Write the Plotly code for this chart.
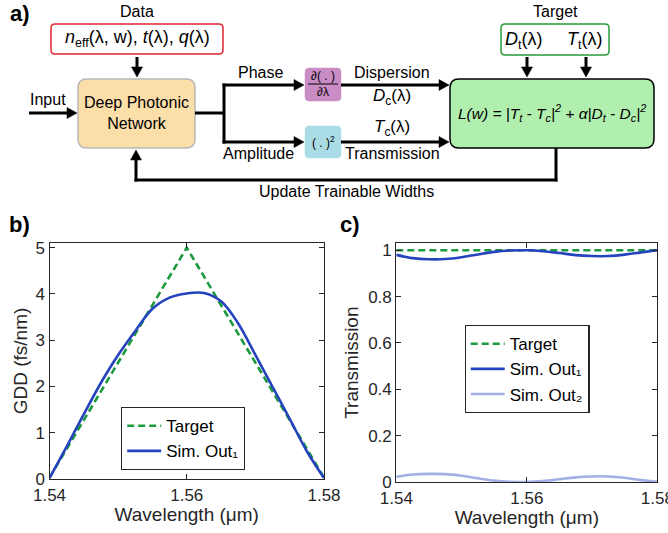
import plotly.graph_objects as go

W, H = 668, 533
FONT = "Liberation Sans, Arial, sans-serif"
AX = "#262626"

# ---------------- data ----------------
wl_target = [1.54, 1.56, 1.58]
gdd_target = [0.03, 5.0, 0.03]

wl = [1.54, 1.5425, 1.545, 1.5475, 1.55, 1.5525, 1.555, 1.5575, 1.56,
      1.5625, 1.565, 1.5675, 1.57, 1.5725, 1.575, 1.5775, 1.58]
gdd_sim = [0.02, 0.70, 1.40, 2.08, 2.68, 3.20, 3.68, 3.92, 4.01,
           4.02, 3.84, 3.36, 2.68, 1.99, 1.30, 0.60, 0.02]

wl_trans_target = [1.54, 1.58]
trans_target = [1.0, 1.0]
trans_out1 = [0.980, 0.966, 0.961, 0.962, 0.970, 0.982, 0.993, 0.999, 1.000,
              0.996, 0.988, 0.979, 0.975, 0.975, 0.981, 0.991, 1.000]
trans_out2 = [0.022, 0.032, 0.035, 0.034, 0.027, 0.016, 0.006, 0.001, 0.000,
              0.004, 0.012, 0.020, 0.024, 0.024, 0.018, 0.008, 0.001]

x_ticks = [1.54, 1.56, 1.58]
x_ticktext = ["1.54", "1.56", "1.58"]
gdd_ticks = [0, 1, 2, 3, 4, 5]
trans_ticks = [0, 0.2, 0.4, 0.6, 0.8, 1.0]
trans_ticktext = ["0", "0.2", "0.4", "0.6", "0.8", "1"]

GREEN = "#1a9a3c"
BLUE = "#2443bd"
LBLUE = "#a3b0e6"

fig = go.Figure()

# panel b
fig.add_trace(go.Scatter(x=wl_target, y=gdd_target, mode="lines", name="Target",
                         line=dict(color=GREEN, width=2.6, dash="7px,4px"),
                         xaxis="x", yaxis="y", legend="legend", legendgroup="a"))
fig.add_trace(go.Scatter(x=wl, y=gdd_sim, mode="lines", name="Sim. Out₁",
                         line=dict(color=BLUE, width=2.6, shape="spline", smoothing=1),
                         xaxis="x", yaxis="y", legend="legend", legendgroup="b"))
# panel c
fig.add_trace(go.Scatter(x=wl_trans_target, y=trans_target, mode="lines", name="Target",
                         line=dict(color=GREEN, width=2.6, dash="7px,4px"),
                         xaxis="x2", yaxis="y2", legend="legend2", legendgroup="c"))
fig.add_trace(go.Scatter(x=wl, y=trans_out1, mode="lines", name="Sim. Out₁",
                         line=dict(color=BLUE, width=2.6, shape="spline", smoothing=1),
                         xaxis="x2", yaxis="y2", legend="legend2", legendgroup="d"))
fig.add_trace(go.Scatter(x=wl, y=trans_out2, mode="lines", name="Sim. Out₂",
                         line=dict(color=LBLUE, width=2.6, shape="spline", smoothing=1),
                         xaxis="x2", yaxis="y2", legend="legend2", legendgroup="e"))


def X(px):
    return px / W


def Y(py):
    return 1 - py / H


axis_common = dict(showline=True, linecolor=AX, linewidth=1.2, mirror="ticks",
                   ticks="inside", ticklen=5, tickcolor=AX, tickwidth=1,
                   showgrid=False, zeroline=False, automargin=False,
                   ticklabeloverflow="allow",
                   tickfont=dict(family=FONT, size=17, color=AX))

xb = dict(axis_common, domain=[X(49.5), X(324)], range=[1.54, 1.58],
          tickvals=x_ticks, ticktext=x_ticktext, anchor="y",
          title=dict(text="Wavelength (μm)", font=dict(family=FONT, size=19, color=AX), standoff=4))
yb = dict(axis_common, domain=[Y(479), Y(243)], range=[0, 5.1],
          tickvals=gdd_ticks, anchor="x",
          title=dict(text="GDD (fs/nm)", font=dict(family=FONT, size=19, color=AX), standoff=2))
xc = dict(axis_common, domain=[X(396.3), X(657.3)], range=[1.54, 1.58],
          tickvals=x_ticks, ticktext=x_ticktext, anchor="y2",
          title=dict(text="Wavelength (μm)", font=dict(family=FONT, size=19, color=AX), standoff=4))
yc = dict(axis_common, domain=[Y(482), Y(243.3)], range=[0, 1.03],
          tickvals=trans_ticks, ticktext=trans_ticktext, anchor="x2",
          title=dict(text="Transmission", font=dict(family=FONT, size=19, color=AX), standoff=4))

shapes = []
annotations = []


def rrect(x0, y0, x1, y1, r, fill, lc, lw=1.5):
    pts = [("M", x0 + r, y0), ("L", x1 - r, y0), ("Q", x1, y0, x1, y0 + r),
           ("L", x1, y1 - r), ("Q", x1, y1, x1 - r, y1), ("L", x0 + r, y1),
           ("Q", x0, y1, x0, y1 - r), ("L", x0, y0 + r), ("Q", x0, y0, x0 + r, y0)]
    parts = []
    for p in pts:
        cmd = p[0]
        coords = p[1:]
        s = cmd + " " + " ".join(
            f"{X(coords[i]):.5f},{Y(coords[i + 1]):.5f}" for i in range(0, len(coords), 2))
        parts.append(s)
    path = " ".join(parts) + " Z"
    shapes.append(dict(type="path", path=path, xref="paper", yref="paper",
                       fillcolor=fill, line=dict(color=lc, width=lw), layer="above"))


def seg(x0, y0, x1, y1, w=3):
    shapes.append(dict(type="line", x0=X(x0), y0=Y(y0), x1=X(x1), y1=Y(y1),
                       xref="paper", yref="paper", line=dict(color="black", width=w),
                       layer="above"))


def arrow(x0, y0, x1, y1, hl=10, hw=5.5):
    dx, dy = x1 - x0, y1 - y0
    L = (dx * dx + dy * dy) ** 0.5
    ux, uy = dx / L, dy / L
    bx, by = x1 - hl * ux, y1 - hl * uy
    seg(x0, y0, bx + ux, by + uy)
    px, py = -uy, ux
    p1 = (bx + hw * px, by + hw * py)
    p2 = (bx - hw * px, by - hw * py)
    path = (f"M {X(x1):.5f},{Y(y1):.5f} L {X(p1[0]):.5f},{Y(p1[1]):.5f} "
            f"L {X(p2[0]):.5f},{Y(p2[1]):.5f} Z")
    shapes.append(dict(type="path", path=path, xref="paper", yref="paper",
                       fillcolor="black", line=dict(color="black", width=0.5), layer="above"))


def text(cx, cy, t, size=16, bold=False, color="black"):
    if bold:
        t = "<b>" + t + "</b>"
    annotations.append(dict(x=X(cx), y=Y(cy), xref="paper", yref="paper", text=t,
                            showarrow=False, xanchor="center", yanchor="middle",
                            font=dict(family=FONT, size=size, color=color)))


# --- diagram ---
text(20, 14, "a)", size=22, bold=True)
text(19, 224, "b)", size=22, bold=True)
text(350, 224, "c)", size=22, bold=True)

text(137, 12, "Data")
rrect(51, 24, 223, 54, 4, "white", "#e02530", 1.5)
text(137, 39, "<i>n</i><sub>eff</sub>(λ, w), <i>t</i>(λ), <i>q</i>(λ)", size=18)
arrow(137, 57, 137, 77)

rrect(78, 79, 195, 148, 9, "#fcdea9", "#b8b8b8", 1.5)
text(136.5, 113, "Deep Photonic<br>Network", size=16)

arrow(29, 113, 77, 113)
text(48, 100, "Input")

seg(195, 113, 224, 113)
seg(224, 83.5, 224, 143.5)
arrow(222.5, 85, 304, 85)
arrow(222.5, 142, 304, 142)
text(260, 73, "Phase")
text(258, 154, "Amplitude")

rrect(305, 68, 341, 101, 4, "#c98cc5", "#c98cc5", 0.5)
text(323, 76, "∂( . )", size=12)
seg(308, 84, 338, 84, w=1)
text(323, 92, "∂λ", size=12)

rrect(305, 126, 341, 158, 4, "#aadce6", "#aadce6", 0.5)
text(323, 142, "( . )<sup>2</sup>", size=12)

arrow(341, 85, 449, 85)
arrow(341, 142, 449, 142)
text(392, 73, "Dispersion")
text(392, 97, "<i>D</i><sub>c</sub>(λ)", size=17)
text(392, 128, "<i>T</i><sub>c</sub>(λ)", size=17)
text(392, 154, "Transmission")

text(555, 11, "Target")
rrect(501, 24, 609, 55, 4, "white", "#2a9a3a", 1.5)
text(524, 41, "<i>D</i><sub>t</sub>(λ)", size=18)
text(585, 41, "<i>T</i><sub>t</sub>(λ)", size=18)
arrow(527, 57, 527, 77)
arrow(586, 57, 586, 77)

rrect(450, 79, 654, 148, 9, "#b1efae", "black", 1.5)
text(552, 113, "<i>L(w) = |T<sub>t</sub> - T<sub>c</sub>|<sup>2</sup> + α|D<sub>t</sub> - D<sub>c</sub>|<sup>2</sup></i>", size=15.5)

seg(556, 148, 556, 181.5)
seg(557.5, 180, 134.5, 180)
arrow(136, 181.5, 136, 150)
text(346, 191, "Update Trainable Widths")

legend_common = dict(bgcolor="white", bordercolor=AX, borderwidth=1.2,
                     font=dict(family=FONT, size=17, color="black"),
                     xanchor="left", yanchor="top", itemwidth=34, tracegroupgap=0,
                     itemclick=False)

fig.update_layout(
    width=W, height=H, margin=dict(l=0, r=0, t=0, b=0, autoexpand=False),
    paper_bgcolor="white", plot_bgcolor="white",
    xaxis=xb, yaxis=yb, xaxis2=xc, yaxis2=yc,
    shapes=shapes, annotations=annotations,
    legend=dict(legend_common, x=X(121), y=Y(407)),
    legend2=dict(legend_common, x=X(464.5), y=Y(325)),
    showlegend=True,
)

fig.write_html("out.html")
